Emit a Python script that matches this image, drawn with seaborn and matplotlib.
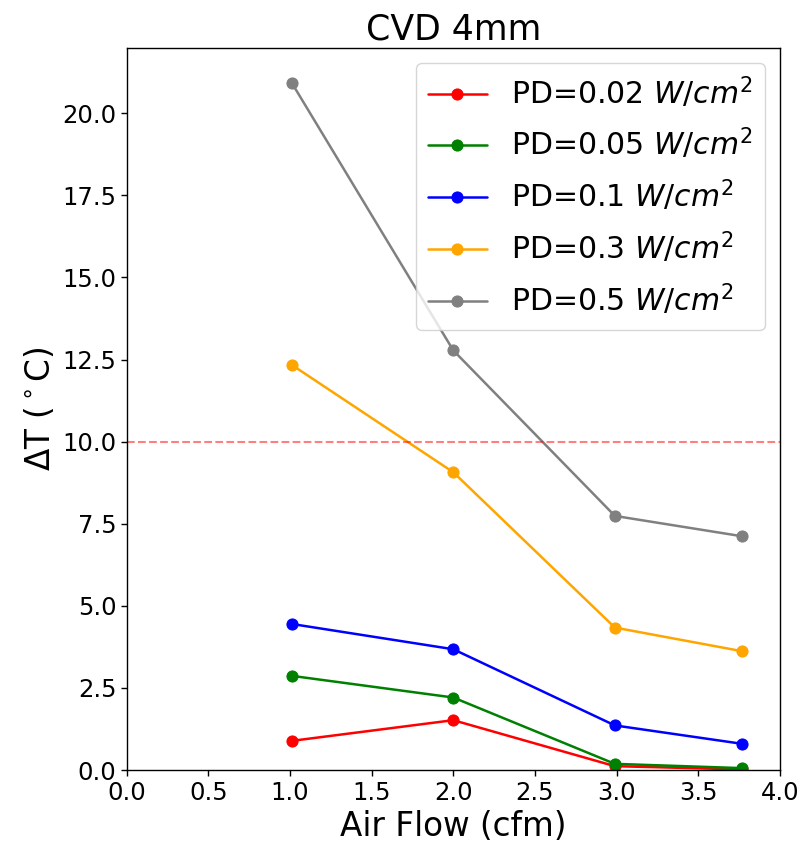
import matplotlib
matplotlib.use("Agg")
import matplotlib.pyplot as plt
import seaborn as sns
import pandas as pd

air_flow = [1.01, 2.0, 2.99, 3.77]
labels = ["PD=0.02 $W/cm^2$", "PD=0.05 $W/cm^2$", "PD=0.1 $W/cm^2$",
          "PD=0.3 $W/cm^2$", "PD=0.5 $W/cm^2$"]
pd002 = [0.89, 1.52, 0.12, 0.02]
pd005 = [2.87, 2.21, 0.19, 0.06]
pd01 = [4.45, 3.68, 1.36, 0.80]
pd03 = [12.34, 9.07, 4.34, 3.62]
pd05 = [20.93, 12.78, 7.74, 7.12]
colors = ["red", "green", "blue", "orange", "grey"]
series = [pd002, pd005, pd01, pd03, pd05]

sns.set_style("white")
plt.rcParams["font.family"] = ["DejaVu Sans"]
plt.rcParams["text.color"] = "black"
plt.rcParams["axes.labelcolor"] = "black"
plt.rcParams["xtick.color"] = "black"
plt.rcParams["ytick.color"] = "black"

fig = plt.figure(figsize=(8.08, 8.5), dpi=100)
ax = fig.add_axes([0.157, 0.094, 0.808, 0.850])

for lab, vals, c in zip(labels, series, colors):
    df = pd.DataFrame({"x": air_flow, "y": vals})
    sns.lineplot(data=df, x="x", y="y", ax=ax, color=c, marker="o",
                 markersize=8, markeredgecolor=c, linewidth=1.8, label=lab)

ax.axhline(10, color="red", linestyle="--", alpha=0.5, linewidth=1.5)

ax.set_xlim(0, 4)
ax.set_ylim(0, 22.0)
ax.set_xticks([0, 0.5, 1, 1.5, 2, 2.5, 3, 3.5, 4])
ax.set_yticks([0, 2.5, 5, 7.5, 10, 12.5, 15, 17.5, 20])
ax.set_xticklabels(["0.0", "0.5", "1.0", "1.5", "2.0", "2.5", "3.0", "3.5", "4.0"])
ax.set_yticklabels(["0.0", "2.5", "5.0", "7.5", "10.0", "12.5", "15.0", "17.5", "20.0"])
ax.tick_params(axis="both", labelsize=17.5, direction="out", length=4, width=1,
               left=True, bottom=True, colors="black")
for s in ax.spines.values():
    s.set_visible(True)
    s.set_color("black")
    s.set_linewidth(1.0)

ax.set_xlabel("Air Flow (cfm)", fontsize=23.5)
ax.set_ylabel(r"$\Delta$T ($^\circ$C)", fontsize=23.5)
ax.set_title("CVD 4mm", fontsize=25)
ax.legend(loc="upper right", fontsize=21.5, frameon=True, labelspacing=0.55)

fig.savefig("out.png", dpi=100)
